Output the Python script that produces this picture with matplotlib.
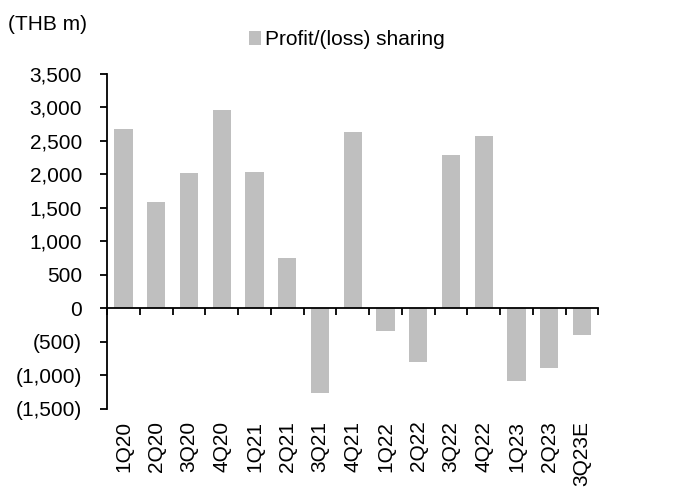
import numpy as np
import matplotlib.pyplot as plt
from matplotlib.ticker import FuncFormatter

plt.rcParams['font.family'] = ['Liberation Sans', 'DejaVu Sans']

quarters = ['1Q20', '2Q20', '3Q20', '4Q20', '1Q21', '2Q21', '3Q21', '4Q21',
            '1Q22', '2Q22', '3Q22', '4Q22', '1Q23', '2Q23', '3Q23E']
sharing = [2680, 1580, 2020, 2960, 2035, 750, -1270, 2635,
           -340, -800, 2290, 2580, -1085, -895, -405]

fs = 15

fig = plt.figure(figsize=(6.91, 4.87), dpi=100)
ax = fig.add_axes([0.155, 0.161, 0.711, 0.687])

x = np.arange(len(quarters))
ax.bar(x, sharing, width=0.56, color='#BFBFBF', label='Profit/(loss) sharing')

ax.set_xlim(-0.5, len(quarters) - 0.5)
ax.set_ylim(-1500, 3500)
ax.set_yticks(np.arange(-1500, 3501, 500))

def fmt(v, pos):
    if v < 0:
        return '({:,.0f})'.format(-v)
    return '{:,.0f}'.format(v)

ax.yaxis.set_major_formatter(FuncFormatter(fmt))

for s in ['top', 'right']:
    ax.spines[s].set_visible(False)
ax.spines['bottom'].set_position(('data', 0))
ax.spines['left'].set_linewidth(1.3)
ax.spines['bottom'].set_linewidth(1.3)

ax.set_xticks(np.arange(-0.5, len(quarters), 1.0))
ax.set_xticklabels([])
ax.tick_params(axis='x', direction='out', length=5, width=1.3)
ax.tick_params(axis='y', direction='out', length=5, width=1.3, pad=13, labelsize=fs)

for i, q in enumerate(quarters):
    ax.text(i, -0.036, q, transform=ax.get_xaxis_transform(), rotation=90,
            ha='center', va='top', fontsize=fs)

fig.text(0.012, 0.95, '(THB m)', fontsize=fs, ha='left', va='center')
fig.legend(loc='center', bbox_to_anchor=(0.502, 0.918), frameon=False, fontsize=fs,
           handlelength=0.6, handleheight=0.6, handletextpad=0.2)

fig.savefig('out.png', dpi=100)
